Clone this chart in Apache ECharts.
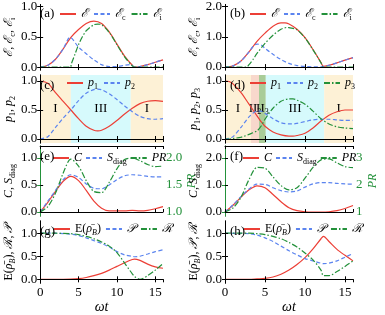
<!DOCTYPE html>
<html><head><meta charset="utf-8">
<script src="https://cdn.jsdelivr.net/npm/echarts@6.0.0/dist/echarts.min.js"></script>
<style>html,body{margin:0;padding:0;background:#fff}#c{width:385px;height:315px}</style>
</head><body><div id="c"></div><script>
// ---------------- data ----------------
const aT_E  = [0,1,2,3,4,5,6,7,8,9,10,11,12,12.3,13,14,15,16];
const aE    = [0,0.03,0.13,0.3,0.49,0.62,0.72,0.76,0.72,0.58,0.38,0.18,0.03,0.0,0.01,0.04,0.08,0.12];
const aT_Ec = [0,1,2,3,3.9,5,6,7,8,9,10,11,11.8,12.3,13,14,15,16];
const aEc   = [0,0.03,0.13,0.3,0.49,0.33,0.22,0.12,0.04,0.01,0.01,0.03,0.04,0.0,0.01,0.04,0.08,0.12];
const aT_Ei = [0,1,2,3,3.95,4.05,4.5,5,5.5,6,7,7.5,8,9,10,11,12,12.3,13,14,15,16];
const aEi   = [0,0,0,0,0,0.05,0.2,0.37,0.5,0.6,0.7,0.71,0.7,0.57,0.37,0.17,0.02,0,0,0,0,0];

const bT_E  = [0,1,2,3,4,5,6,7,7.5,8,9,10,11,12,12.3,13,14,15,16];
const bE    = [0,0.04,0.2,0.5,0.85,1.12,1.35,1.46,1.46,1.42,1.25,0.97,0.58,0.15,0.02,0.06,0.14,0.23,0.31];
const bT_Ec = [0,1,2,3,3.5,4,4.5,5,6,7,8,9,10,11,12,12.3,13,14,15,16];
const bEc   = [0,0.04,0.2,0.5,0.68,0.76,0.73,0.62,0.42,0.25,0.12,0.05,0.02,0.01,0.01,0.02,0.06,0.14,0.23,0.31];
const bT_Ei = [0,1,2,2.7,3,3.5,4,5,6,7,7.8,8,9,10,11,12,12.3,13,14,15,16];
const bEi   = [0,0,0,0,0.08,0.25,0.45,0.78,1.05,1.25,1.31,1.3,1.23,0.96,0.57,0.14,0,0,0,0,0];

const cT  = [0,1,2,3,4,5,6,7,7.5,8,9,10,11,12,13,14,15,16];
const cP1 = [1.0,0.96,0.8,0.65,0.5,0.35,0.22,0.15,0.14,0.15,0.22,0.32,0.43,0.53,0.61,0.65,0.66,0.65];
const cP2 = [0,0.04,0.2,0.36,0.5,0.66,0.79,0.85,0.86,0.85,0.78,0.68,0.57,0.47,0.39,0.35,0.34,0.35];

const dT  = [0,0.5,1,2,3,4,4.5,5,6,7,8,8.5,9,10,11,12,13,14,15,16];
const dP1 = [1.0,0.99,0.95,0.8,0.6,0.4,0.3,0.22,0.12,0.07,0.05,0.05,0.06,0.1,0.19,0.31,0.41,0.47,0.5,0.5];
const dP2 = [0,0.01,0.04,0.2,0.38,0.48,0.48,0.44,0.35,0.28,0.26,0.26,0.27,0.3,0.33,0.34,0.34,0.33,0.32,0.32];
const dP3 = [0,0,0.01,0.03,0.08,0.14,0.22,0.34,0.53,0.65,0.69,0.69,0.67,0.6,0.48,0.35,0.26,0.21,0.19,0.18];

const eT  = [0,1,2,3,4,5,6,7,8,9,10,11,12,13,14,15,16];
const eC  = [0,0.18,0.38,0.57,0.66,0.58,0.4,0.2,0.07,0.02,0.02,0.02,0.03,0.02,0.03,0.06,0.1];
const eS  = [0,0.2,0.4,0.6,0.69,0.64,0.52,0.44,0.43,0.5,0.6,0.67,0.69,0.68,0.66,0.65,0.65];
const ePR = [1.0,1.1,1.35,1.72,1.98,1.85,1.58,1.38,1.36,1.55,1.8,1.97,2.0,1.95,1.88,1.84,1.85];

const fT  = [0,1,2,3,4,5,6,7,8,9,10,11,12,13,14,15,16];
const fC  = [0,0.25,0.55,0.82,0.97,0.9,0.65,0.38,0.16,0.05,0.01,0,0,0.01,0.05,0.13,0.24];
const fS  = [0,0.26,0.57,0.85,1.03,1.02,0.9,0.79,0.74,0.78,0.92,1.04,1.09,1.09,1.06,1.04,1.03];
const fPR = [1.0,1.15,1.55,2.2,2.65,2.62,2.3,1.98,1.82,1.9,2.25,2.65,2.93,2.97,2.82,2.68,2.64];

const gT  = [0,2,4,5,6,7,8,9,10,11,12,12.3,13,14,15,16];
const gE  = [0,0,0.005,0.015,0.04,0.08,0.13,0.2,0.28,0.36,0.43,0.44,0.41,0.33,0.27,0.24];
const gP  = [1,1,0.98,0.95,0.9,0.84,0.78,0.7,0.6,0.53,0.5,0.49,0.5,0.55,0.6,0.64];
const gR  = [1,1,0.99,0.97,0.93,0.88,0.81,0.72,0.58,0.35,0.12,0.06,0.0,0.08,0.2,0.34];

const hT  = [0,3,4,5,6,7,8,9,10,11,12,12.3,13,14,15,16];
const hE  = [0,0,0.01,0.02,0.05,0.11,0.2,0.32,0.47,0.66,0.88,0.93,0.82,0.65,0.52,0.4];
const hP  = [1,0.99,0.96,0.9,0.82,0.72,0.62,0.53,0.45,0.4,0.35,0.34,0.35,0.4,0.48,0.56];
const hR  = [1,1,0.99,0.97,0.93,0.88,0.8,0.7,0.57,0.42,0.2,0.08,0.08,0.17,0.28,0.4];

// regions: [start, end, label, kind]
const regionsC = [[0,4.0,'I','y'],[4.0,11.8,'III','c'],[11.8,16,'I','y']];
const regionsD = [[0,3.25,'I','y'],[3.25,4.25,'II2','p'],[4.25,5.1,'II3','g'],[5.1,12.4,'III','c'],[12.4,16,'I','y']];

// ---------------- style ----------------
const FONT = 'Liberation Serif';
const RED = '#ec3f36', BLUE = '#5b84ef', GREEN = '#23913a';
const DASH = [4,2.5], DASHDOT = [6,2,1.5,2];
const regionColor = {y:'#fdf1d6', c:'#d6fafc', p:'#f8d8cc', g:'#a9cc98'};
const rich = {
  i:{fontStyle:'italic', fontFamily:FONT, fontSize:12, lineHeight:16},
  n:{fontFamily:FONT, fontSize:12, lineHeight:16},
  s:{fontFamily:FONT, fontSize:8, lineHeight:8, verticalAlign:'bottom'},
  si:{fontFamily:FONT, fontStyle:'italic', fontSize:8, lineHeight:8, verticalAlign:'bottom'}
};
const labelMap = {
  aE:'{i|ℰ}', aEc:'{i|ℰ}{s|c}', aEi:'{i|ℰ}{s|i}',
  bE:'{i|ℰ}', bEc:'{i|ℰ}{s|c}', bEi:'{i|ℰ}{s|i}',
  cP1:'{i|p}{s|1}', cP2:'{i|p}{s|2}',
  dP1:'{i|p}{s|1}', dP2:'{i|p}{s|2}', dP3:'{i|p}{s|3}',
  eC:'{i|C}', eS:'{i|S}{s|diag}', ePR:'{i|PR}',
  fC:'{i|C}', fS:'{i|S}{s|diag}', fPR:'{i|PR}',
  gE:'{n|E(}{i|ρ̄}{si|B}{n|)}', gP:'{i|𝒫}', gR:'{i|ℛ}',
  hE:'{n|E(}{i|ρ̄}{si|B}{n|)}', hP:'{i|𝒫}', hR:'{i|ℛ}',
  II2:'II{s|2}', II3:'II{s|3}', I:'I', III:'III'
};

const rowsTop = [3,75,146,221], rowsH = [67,68,70,66], colsLeft = [35,225], W = 128;

const panels = [
 {id:'a', c:0, r:0, ymin:-0.048, ymax:1.032, ticks:[0,0.5,1], dec:1,
  name:'{i|ℰ}{n|, }{i|ℰ}{s|c}{n|, }{i|ℰ}{s|i}',
  series:[['aE',aT_E,aE,RED,'solid'],['aEc',aT_Ec,aEc,BLUE,DASH],['aEi',aT_Ei,aEi,GREEN,DASHDOT]],
  leg:{left:59,top:6,gap:5}},
 {id:'b', c:1, r:0, ymin:-0.097, ymax:2.065, ticks:[0,1,2], dec:1,
  name:'{i|ℰ}{n|, }{i|ℰ}{s|c}{n|, }{i|ℰ}{s|i}',
  series:[['bE',bT_E,bE,RED,'solid'],['bEc',bT_Ec,bEc,BLUE,DASH],['bEi',bT_Ei,bEi,GREEN,DASHDOT]],
  leg:{left:249,top:6,gap:5}},
 {id:'c', c:0, r:1, ymin:-0.069, ymax:1.103, ticks:[0,0.5,1], dec:1,
  name:'{i|p}{s|1}{n|, }{i|p}{s|2}',
  series:[['cP1',cT,cP1,RED,'solid'],['cP2',cT,cP2,BLUE,DASH]], regions:regionsC,
  leg:{left:66,top:75,gap:5}},
 {id:'d', c:1, r:1, ymin:-0.069, ymax:1.103, ticks:[0,0.5,1], dec:1,
  name:'{i|p}{s|1}{n|, }{i|p}{s|2}{n|, }{i|p}{s|3}',
  series:[['dP1',dT,dP1,RED,'solid'],['dP2',dT,dP2,BLUE,DASH],['dP3',dT,dP3,GREEN,DASHDOT]], regions:regionsD,
  leg:{left:249,top:75,gap:5}},
 {id:'e', c:0, r:2, ymin:-0.074, ymax:1.222, ticks:[0,0.5,1], dec:1,
  name:'{i|C}{n|, }{i|S}{s|diag}',
  right:{min:0.926, max:2.222, ticks:[1,1.5,2], dec:1, gap:18},
  series:[['eC',eT,eC,RED,'solid'],['eS',eT,eS,BLUE,DASH],['ePR',eT,ePR,GREEN,DASHDOT,1]],
  leg:{left:52,top:150,gap:3}},
 {id:'f', c:1, r:2, ymin:-0.148, ymax:2.444, ticks:[0,1,2], dec:1,
  name:'{i|C}{n|, }{i|S}{s|diag}',
  right:{min:0.852, max:3.444, ticks:[1,2,3], dec:0, gap:12},
  series:[['fC',fT,fC,RED,'solid'],['fS',fT,fS,BLUE,DASH],['fPR',fT,fPR,GREEN,DASHDOT,1]],
  leg:{left:242,top:150,gap:3}},
 {id:'g', c:0, r:3, ymin:-0.082, ymax:1.265, ticks:[0,0.5,1], dec:1,
  name:'{n|E(}{i|ρ̄}{si|B}{n|), }{i|ℛ}{n|, }{i|𝒫}',
  series:[['gE',gT,gE,RED,'solid'],['gP',gT,gP,BLUE,DASH],['gR',gT,gR,GREEN,DASHDOT]],
  leg:{left:53,top:221,gap:4}},
 {id:'h', c:1, r:3, ymin:-0.082, ymax:1.265, ticks:[0,0.5,1], dec:1,
  name:'{n|E(}{i|ρ̄}{si|B}{n|), }{i|𝒫}{n|, }{i|ℛ}',
  series:[['hE',hT,hE,RED,'solid'],['hP',hT,hP,BLUE,DASH],['hR',hT,hR,GREEN,DASHDOT]],
  leg:{left:243,top:221,gap:4}}
];

const zip = (t,v) => t.map((x,i)=>[x,v[i]]);
const grid=[], xAxis=[], yAxis=[], series=[], legend=[], graphic=[];
const tickStyle = {inside:true, length:3, lineStyle:{color:'#000', width:1}};
const lineAx = {show:true, lineStyle:{color:'#000', width:1}};

panels.forEach((p, k) => {
  const left = colsLeft[p.c], top = rowsTop[p.r], h = rowsH[p.r];
  grid.push({left, top, width:W, height:h, containLabel:false});
  const bottomRow = p.r === 3;
  xAxis.push({type:'value', gridIndex:k, min:0, max:16, interval:5, position:'bottom', z:5,
    axisLine:lineAx, axisTick:tickStyle, splitLine:{show:false},
    axisLabel:{show:bottomRow, fontFamily:FONT, fontSize:13, color:'#000', margin:3, showMaxLabel:false},
    name: bottomRow ? 'ωt' : '', nameLocation:'middle', nameGap:15,
    nameTextStyle:{fontFamily:FONT, fontStyle:'italic', fontSize:14, color:'#000'}});
  xAxis.push({type:'value', gridIndex:k, min:0, max:16, interval:5, position:'top', z:5,
    axisLine:lineAx, axisTick:tickStyle, axisLabel:{show:false}, splitLine:{show:false}});
  yAxis.push({type:'value', gridIndex:k, min:p.ymin, max:p.ymax, position:'left', z:5,
    axisLine:lineAx, axisTick:Object.assign({customValues:p.ticks}, tickStyle), splitLine:{show:false},
    axisLabel:{customValues:p.ticks, formatter:v=>v.toFixed(p.dec), fontFamily:FONT, fontSize:13, color:'#000', margin:3},
    name:p.name, nameLocation:'middle', nameGap:18, nameRotate:90,
    nameTextStyle:{fontFamily:FONT, fontSize:12, color:'#000', lineHeight:16, rich}});
  if (p.right) {
    const rc = GREEN;
    yAxis.push({type:'value', gridIndex:k, min:p.right.min, max:p.right.max, position:'right', z:5,
      axisLine:{show:true, lineStyle:{color:rc, width:1}},
      axisTick:{customValues:p.right.ticks, inside:true, length:3, lineStyle:{color:rc}}, splitLine:{show:false},
      axisLabel:{customValues:p.right.ticks, formatter:v=>v.toFixed(p.right.dec), fontFamily:FONT, fontSize:13, color:rc, margin:3},
      name:'PR', nameLocation:'middle', nameGap:p.right.gap, nameRotate:90,
      nameTextStyle:{fontFamily:FONT, fontStyle:'italic', fontSize:12, color:rc}});
  } else {
    yAxis.push({type:'value', gridIndex:k, min:p.ymin, max:p.ymax, position:'right', z:5,
      axisLine:lineAx, axisTick:Object.assign({customValues:p.ticks}, tickStyle),
      axisLabel:{show:false}, splitLine:{show:false}});
  }
  p.series.forEach((s, j) => {
    const ser = {type:'line', name:s[0], xAxisIndex:2*k, yAxisIndex:2*k + (s[5]?1:0),
      data:zip(s[1], s[2]), symbol:'none', smooth:0.3, z:3,
      lineStyle:{color:s[3], width:1.2, type:s[4]}, itemStyle:{color:s[3]}};
    if (j === 0 && p.regions) {
      ser.markArea = {silent:true, z:1,
        label:{show:true, position:'inside', color:'#000', fontFamily:FONT, fontSize:13,
          formatter:q=>labelMap[q.name], rich},
        data:p.regions.map(r=>[{xAxis:r[0], name:r[2], itemStyle:{color:regionColor[r[3]]}}, {xAxis:r[1]}])};
    }
    series.push(ser);
  });
  legend.push({left:p.leg.left, top:p.leg.top, orient:'horizontal', padding:0, itemGap:p.leg.gap,
    itemWidth:16, itemHeight:16, selectedMode:false,
    itemStyle:{opacity:0},
    data:p.series.map(s=>s[0]),
    formatter:n=>labelMap[n],
    textStyle:{fontFamily:FONT, fontSize:12, color:'#000', lineHeight:16, rich}});
  graphic.push({type:'text', left:left+5, top:top+4, z:10,
    style:{text:'('+p.id+')', font:'13px "Liberation Serif"', fill:'#000'}});
});

const chart = echarts.init(document.getElementById('c'), null, {renderer:'canvas'});
chart.setOption({animation:false, backgroundColor:'#fff', grid, xAxis, yAxis, series, legend, graphic});
</script></body></html>
